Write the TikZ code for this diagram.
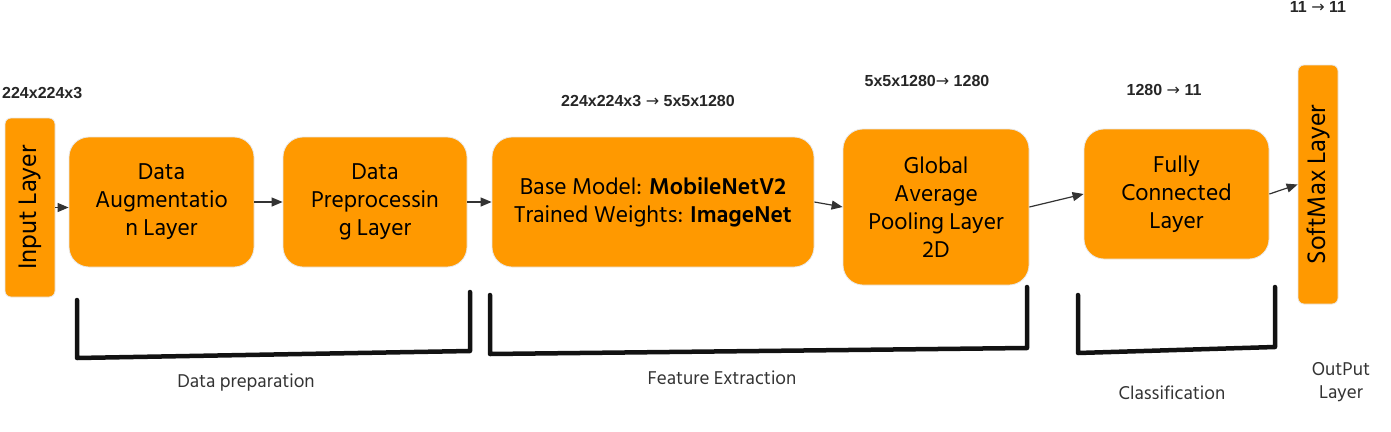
\documentclass[tikz,border=0pt]{standalone}
\usepackage{fontspec}
\setmainfont{Hind Siliguri}
\newfontfamily\dimfont{Liberation Sans}
\newfontfamily\arrowfont{DejaVu Sans}
\usetikzlibrary{arrows.meta}
\definecolor{boxorange}{HTML}{FF9900}
\definecolor{boxedge}{HTML}{E8E8E8}
\definecolor{arrowgray}{HTML}{333333}
\definecolor{labelgray}{HTML}{333333}
\newcommand{\rarr}{{\arrowfont\mdseries →}}
\tikzset{
  layerbox/.style={draw=boxedge, line width=0.8pt, fill=boxorange, rounded corners=20pt,
    align=center, inner sep=0pt, font=\fontsize{23.5}{28}\selectfont, text=black},
  slimbox/.style={layerbox, rounded corners=6pt, font=\fontsize{26}{28}\selectfont},
  flow/.style={draw=arrowgray, line width=1.2pt, -{Triangle[length=11pt,width=9pt]}},
  bracketline/.style={draw=black!93, line width=4.5pt, line join=round, line cap=round},
  dimlabel/.style={font=\dimfont\bfseries\fontsize{16}{18}\selectfont, text=black!85, inner sep=0pt},
  grouplabel/.style={font=\fontsize{19}{23}\selectfont, text=labelgray, align=center, inner sep=0pt}
}
\begin{document}
\begin{tikzpicture}[x=1pt,y=-1pt]
\useasboundingbox (0,0) rectangle (1391,431);
% boxes
\node[slimbox, minimum width=50pt, minimum height=179pt] (input) at (30,207.5) {\rotatebox{90}{Input Layer}};
\node[layerbox, minimum width=185pt, minimum height=130pt] (aug) at (161.5,202) {Data\\Augmentatio\\n Layer};
\node[layerbox, minimum width=184pt, minimum height=130pt] (prep) at (375,202) {Data\\Preprocessin\\g Layer};
\node[layerbox, minimum width=322pt, minimum height=130pt] (base) at (653,202) {Base Model: \textbf{MobileNetV2}\\Trained Weights: \textbf{ImageNet}};
\node[layerbox, minimum width=186pt, minimum height=156pt] (gap) at (936,207) {Global\\Average\\Pooling Layer\\2D};
\node[layerbox, minimum width=185pt, minimum height=130pt] (fc) at (1176.5,194) {Fully\\Connected\\Layer};
\node[slimbox, minimum width=40pt, minimum height=239pt] (soft) at (1318,184.5) {\rotatebox{90}{SoftMax Layer}};
% connectors
\draw[flow] (input.east) -- (aug.west |- input.east);
\draw[flow] (aug.east) -- (prep.west);
\draw[flow] (prep.east) -- (base.west);
\draw[flow] (base.east) -- (gap.west);
\draw[flow] (gap.east) -- (fc.west);
\draw[flow] (fc.east) -- (soft.west);
% dimension labels
\node[dimlabel, anchor=west] (d1) at (2,93) {224x224x3};
\node[dimlabel] (d2) at (648,101) {224x224x3 \rarr\ 5x5x1280};
\node[dimlabel] (d3) at (927,81) {5x5x1280\rarr\ 1280};
\node[dimlabel] (d4) at (1164,90) {1280 \rarr\ 11};
\node[dimlabel] (d5) at (1318,7) {11 \rarr\ 11};
% brackets
\draw[bracketline] (77,300) -- (77,358) -- (470,351) -- (470,292);
\draw[bracketline] (490,295) -- (490,354) -- (1027,348) -- (1027,287);
\draw[bracketline] (1078,295) -- (1078,353) -- (1275,347) -- (1275,287);
% group labels
\node[grouplabel] (g1) at (246,383) {Data preparation};
\node[grouplabel] (g2) at (722,378) {Feature Extraction};
\node[grouplabel] (g3) at (1172,393) {Classification};
\node[grouplabel] (g4) at (1341,382) {OutPut\\Layer};
\end{tikzpicture}
\end{document}
